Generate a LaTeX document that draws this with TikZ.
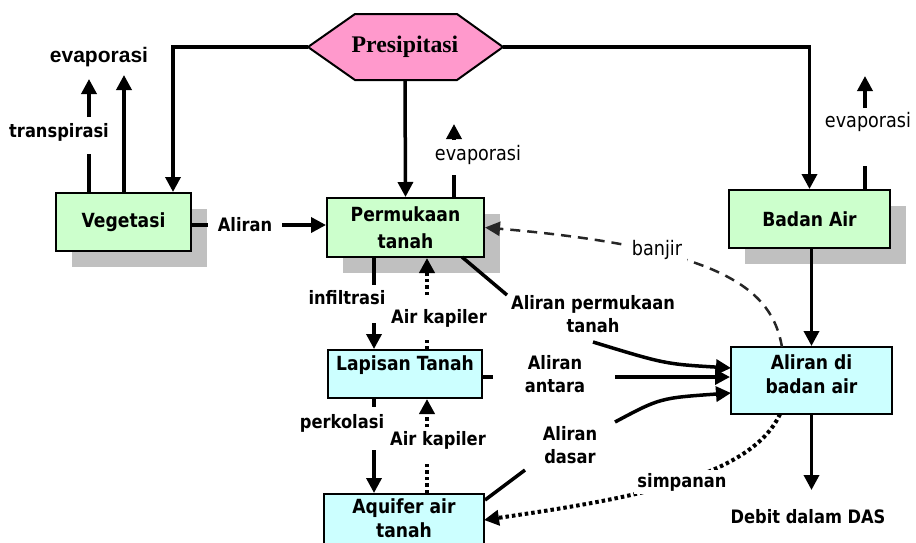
\documentclass[tikz,border=0pt]{standalone}
\usepackage{fontspec}
\setmainfont{DejaVu Sans}[FakeStretch=0.88]
\newfontfamily\serifbf{Liberation Serif}
\newfontfamily\arialf{Liberation Sans}
\usetikzlibrary{arrows.meta,shadows}
\definecolor{boxgreen}{HTML}{CCFFCC}
\definecolor{boxcyan}{HTML}{CCFFFF}
\definecolor{hexpink}{HTML}{FF99CC}
\definecolor{shgray}{HTML}{C0C0C0}
\begin{document}
\begin{tikzpicture}[x=1pt,y=-1pt,
  font=\fontsize{18.5}{23}\selectfont\bfseries,
  box/.style={draw, line width=2pt, inner sep=0pt, align=center, font=\fontsize{19.5}{24}\selectfont\bfseries},
  gbox/.style={box, fill=boxgreen, drop shadow={shadow xshift=16pt, shadow yshift=-16pt, fill=shgray, opacity=1}},
  cbox/.style={box, fill=boxcyan},
  lbl/.style={inner sep=1pt, align=center},
  btxt/.style={lbl, font=\fontsize{19.5}{24}\selectfont\bfseries},
  wlbl/.style={lbl, fill=white},
  reglbl/.style={lbl, font=\fontsize{20}{24}\selectfont},
  ln/.style={line width=3.5pt},
  arr/.style={ln, -{Triangle[width=15pt,length=15pt]}},
  dotl/.style={line width=4pt, dash pattern=on 3.5pt off 3pt},
  dotarr/.style={dotl, -{Triangle[width=15pt,length=15pt]}},
  dasharr/.style={line width=2.5pt, black!85, dash pattern=on 10pt off 7pt, -{Triangle[width=14pt,length=15pt]}}
]
\useasboundingbox (0,0) rectangle (916,542);

% hexagon
\draw[line width=2pt, fill=hexpink] (308,47) -- (355,14) -- (457,14) -- (503,47) -- (457,80) -- (355,80) -- cycle;
\node[lbl] (pres) at (405,47) {\serifbf\bfseries\fontsize{23.8}{28}\selectfont Presipitasi};
\coordinate (presL) at (308,47);
\coordinate (presR) at (503,47);
\coordinate (presB) at (405,80);

% boxes
\node[gbox, minimum width=135pt, minimum height=58pt] (veg) at (123.5,222) {Vegetasi};
\node[gbox, minimum width=157pt, minimum height=59pt] (perm) at (405.5,227.5) {Permukaan\\[3pt]tanah};
\node[gbox, minimum width=161pt, minimum height=58pt] (badan) at (809.5,219) {Badan Air};
\node[cbox, minimum width=154pt, minimum height=48pt] (lap) at (405,374) {};
\node[btxt] (lapt) at (405,365) {Lapisan Tanah};
\node[cbox, minimum width=160pt, minimum height=52pt] (aq) at (404,520) {};
\node[btxt] (aqt) at (404,518.5) {Aquifer air\\tanah};
\node[cbox, minimum width=161pt, minimum height=67pt] (ali) at (811.5,380.5) {};
\node[btxt] (alit) at (811.5,374.5) {Aliran di\\badan air};

% presipitasi connectors
\draw[arr] (presL) -| ([xshift=-19pt]veg.north east);
\draw[arr] (presR) -| (badan.north);
\draw[arr] (presB) -- (perm.north);

% vegetasi up arrows
\coordinate (t1) at (89,154);
\coordinate (t2) at (89,117);
\coordinate (t3) at (89,79);
\coordinate (e1) at (124,75);
\draw[ln] (t1 |- veg.north) -- (t1);
\draw[arr] (t2) -- (t3);
\draw[arr] (e1 |- veg.north) -- (e1);
\node[lbl] (transp) at (59,132) {transpirasi};
\node[lbl] (evap1) at (99,57) {\arialf\bfseries\fontsize{21}{24}\selectfont evaporasi};

% aliran veg -> perm
\coordinate (a1) at (208,225);
\coordinate (a2) at (282,225);
\draw[ln] (a1 -| veg.east) -- (a1);
\node[lbl] (aliran1) at (245,225) {Aliran};
\draw[arr] (a2) -- (a2 -| perm.west);

% perm evaporasi
\coordinate (p1) at (454,175);
\coordinate (p2) at (454,140);
\coordinate (p3) at (454,124);
\draw[ln] (p1 |- perm.north) -- (p1);
\draw[arr] (p2) -- (p3);
\node[reglbl] (evap2) at (478,155) {evaporasi};

% badan evaporasi
\coordinate (b1) at (865,166);
\coordinate (b2) at (865,108);
\coordinate (b3) at (865,76);
\draw[ln] (b1 |- badan.north) -- (b1);
\draw[arr] (b2) -- (b3);
\node[reglbl] (evap3) at (868,122) {evaporasi};

% badan -> aliran di badan air -> debit
\draw[arr] (badan.south -| ali.north) -- (ali.north);
\coordinate (d1) at (811.5,490);
\draw[arr] (ali.south) -- (d1);
\node[lbl] (debit) at (808,517) {Debit dalam DAS};

% infiltrasi
\coordinate (i1) at (374,285);
\coordinate (i2) at (374,323);
\draw[ln] (i1 |- perm.south) -- (i1);
\draw[arr] (i2) -- (i2 |- lap.north);
\node[lbl] (infil) at (347,298) {infiltrasi};

% air kapiler upper
\coordinate (k1) at (427,340);
\coordinate (k2) at (427,295);
\draw[dotl] (k1 |- lap.north) -- (k1);
\draw[dotarr] (k2) -- (k2 |- perm.south);
\node[lbl] (kap1) at (439,318) {Air kapiler};

% perkolasi
\coordinate (q1) at (374,407);
\coordinate (q2) at (374,450);
\draw[ln] (q1 |- lap.south) -- (q1);
\draw[arr] (q2) -- (q2 |- aq.north);
\node[lbl] (perk) at (342,423) {perkolasi};

% air kapiler lower
\coordinate (k3) at (427,462);
\coordinate (k4) at (427,427);
\draw[dotl] (k3 |- aq.north) -- (k3);
\draw[dotarr] (k4) -- (k4 |- lap.south);
\node[lbl] (kap2) at (438,440) {Air kapiler};

% aliran antara
\coordinate (n1) at (493,377);
\coordinate (n2) at (615,377);
\draw[ln] (n1 -| lap.east) -- (n1);
\draw[arr] (n2) -- (n2 -| ali.west);
\node[lbl] (antara) at (555,374) {Aliran\\antara};

% aliran permukaan tanah
\coordinate (s1) at (462,257);
\coordinate (s2) at (507,295);
\coordinate (s3) at (593,342);
\coordinate (s4) at (731,368);
\draw[ln] (s1) -- (s2);
\draw[arr] (s3) .. controls (665,364) .. (s4);
\node[lbl] (permlbl) at (593,314) {Aliran permukaan\\tanah};

% aliran dasar
\coordinate (g1) at (485,500);
\coordinate (g2) at (525,470);
\coordinate (g3) at (615,422);
\coordinate (g4) at (731,393);
\draw[ln] (g1) -- (g2);
\draw[arr] (g3) .. controls (660,398) .. (g4);
\node[lbl] (dasar) at (570,445) {Aliran\\dasar};

% banjir
\coordinate (j1) at (782,347);
\draw[dasharr] (j1) .. controls (772,290) and (725,248) .. (perm.east);
\node[reglbl, fill=white, inner sep=5pt] (banjir) at (657,250) {banjir};

% simpanan
\coordinate (m1) at (780,414);
\coordinate (m2) at (484,520);
\draw[dotarr] (m1) .. controls (750,480) and (620,500) .. (m2);
\node[wlbl, inner sep=3pt] (simp) at (682,482) {simpanan};
\end{tikzpicture}
\end{document}
